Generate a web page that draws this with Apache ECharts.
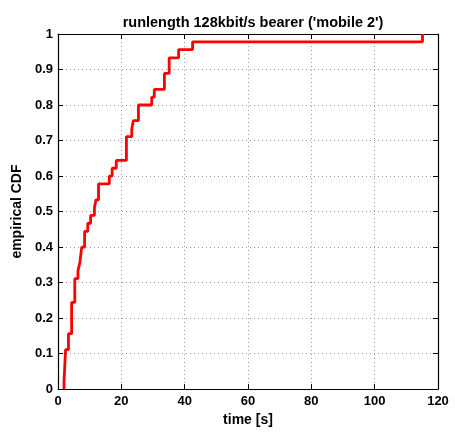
<!DOCTYPE html>
<html>
<head>
<meta charset="utf-8">
<script src="https://cdn.jsdelivr.net/npm/echarts@6/dist/echarts.min.js"></script>
<style>
  html, body { margin: 0; padding: 0; background: #fff; }
  #main { width: 455px; height: 432px; }
</style>
</head>
<body>
<div id="main"></div>
<script>
// step positions (time in s) and CDF value reached at each step
var stepTimes = [1.9, 1.9, 2.4, 3.3, 4.3, 5.3, 6.3, 6.9, 7.5, 8.4, 9.4, 10.3, 11.5, 12.0, 12.8,
    16.2, 17.1, 18.4, 21.6, 23.3, 23.8, 25.4, 29.6, 30.4, 33.6, 35.1, 38.1, 42.5, 115.1];
var cdfValues = [0, 0.022, 0.111, 0.156, 0.244, 0.311, 0.333, 0.356, 0.4, 0.444, 0.467, 0.489, 0.511, 0.533, 0.578,
    0.6, 0.622, 0.644, 0.711, 0.733, 0.756, 0.8, 0.822, 0.844, 0.889, 0.933, 0.956, 0.978, 1];
var xTicks = [0, 20, 40, 60, 80, 100, 120];
var yTicks = [0, 0.1, 0.2, 0.3, 0.4, 0.5, 0.6, 0.7, 0.8, 0.9, 1];

var font = 'Liberation Sans, Arial, Helvetica, sans-serif';
var points = stepTimes.map(function (t, i) { return [t, cdfValues[i]]; });

var myChart = echarts.init(document.getElementById('main'));

function axisBase(opts) {
    var a = {
        axisLine: { show: true, onZero: false, lineStyle: { color: '#000', width: 1.2 } },
        axisTick: { show: true, inside: true, length: 5, lineStyle: { color: '#000' } },
        splitLine: { show: false },
        axisLabel: { show: false }
    };
    for (var k in opts) a[k] = opts[k];
    return a;
}

var option = {
    animation: false,
    backgroundColor: '#fff',
    title: {
        text: "runlength 128kbit/s bearer ('mobile 2')",
        left: 248,
        textAlign: 'center',
        top: 10,
        textStyle: { fontFamily: font, fontSize: 14.5, fontWeight: 'bold', color: '#000' }
    },
    grid: { left: 58, right: 17, top: 34, bottom: 38 },
    xAxis: [
        axisBase({
            type: 'value', min: 0, max: 120, interval: 20, position: 'bottom',
            name: 'time [s]', nameLocation: 'middle', nameGap: 22,
            nameTextStyle: { fontFamily: font, fontSize: 14, fontWeight: 'bold', color: '#000' },
            axisLabel: {
                show: true, margin: 6, fontFamily: font, fontSize: 13, fontWeight: 'bold', color: '#000',
                formatter: function (v) { return xTicks.indexOf(v) >= 0 ? String(v) : ''; }
            },
            splitLine: { show: true, lineStyle: { type: [1, 3], color: '#999', width: 1 } }
        }),
        axisBase({ type: 'value', min: 0, max: 120, interval: 20, position: 'top' })
    ],
    yAxis: [
        axisBase({
            type: 'value', min: 0, max: 1, interval: 0.1, position: 'left',
            name: 'empirical CDF', nameLocation: 'middle', nameGap: 30, nameRotate: 90,
            nameTextStyle: { fontFamily: font, fontSize: 14, fontWeight: 'bold', color: '#000' },
            axisLabel: {
                show: true, margin: 5, fontFamily: font, fontSize: 13, fontWeight: 'bold', color: '#000',
                formatter: function (v) {
                    var r = Math.round(v * 10) / 10;
                    return yTicks.indexOf(r) >= 0 ? String(r) : '';
                }
            },
            splitLine: { show: true, lineStyle: { type: [1, 3], color: '#999', width: 1 } }
        }),
        axisBase({ type: 'value', min: 0, max: 1, interval: 0.1, position: 'right' })
    ],
    series: [{
        type: 'line',
        step: 'end',
        data: points,
        showSymbol: false,
        symbol: 'none',
        clip: false,
        lineStyle: { color: '#ff0000', width: 2.8 }
    }]
};
myChart.setOption(option);
</script>
</body>
</html>
